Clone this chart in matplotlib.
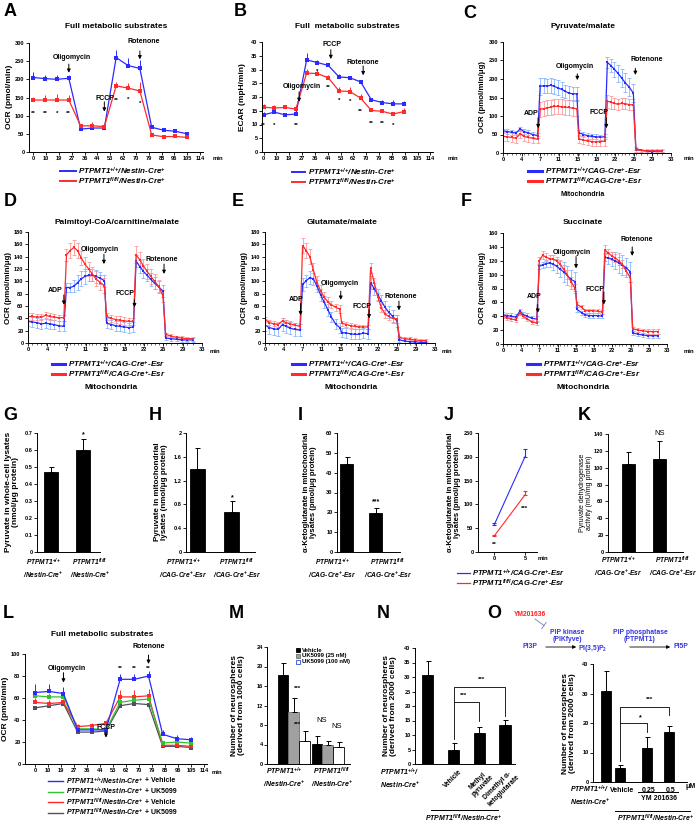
import numpy as np
import matplotlib
matplotlib.use('Agg')
import matplotlib.pyplot as plt
from matplotlib.lines import Line2D
from matplotlib.patches import FancyArrowPatch

plt.rcParams.update({
    'font.family': ['Liberation Sans', 'DejaVu Sans'],
    'font.weight': 'bold',
    'mathtext.fontset': 'custom',
    'mathtext.rm': 'Liberation Sans:italic:bold',
    'mathtext.it': 'Liberation Sans:italic:bold',
    'mathtext.bf': 'Liberation Sans:bold',
    'axes.linewidth': 0.7,
})

# ======================= DATA =======================
seahorse_labels = ['0', '10', '19', '27', '36', '44', '53', '62', '70', '79', '88', '96', '105', '114']

A_wt = [205, 202, 200, 203, 63, 66, 66, 260, 238, 230, 68, 60, 57, 50]
A_wt_err = [15, 10, 12, 8, 5, 4, 4, 20, 20, 24, 5, 5, 4, 4]
A_ko = [143, 143, 143, 143, 72, 72, 70, 182, 176, 168, 47, 42, 43, 40]
A_ko_err = [8, 15, 18, 14, 6, 10, 8, 12, 14, 24, 3, 3, 3, 3]
A_sig = ['**', '**', '*', '**', '', '', '', '**', '*', '*', '', '', '', '']

B_wt = [13.5, 14.5, 13.5, 13.8, 33.5, 32.5, 31.5, 27.3, 27.0, 25.5, 19.0, 18.0, 17.5, 17.5]
B_wt_err = [1.0, 0.5, 0.5, 0.5, 2.5, 1.0, 1.0, 1.2, 0.8, 0.8, 0.8, 0.8, 1.5, 1.2]
B_ko = [16.3, 16.0, 16.2, 15.6, 28.7, 28.5, 27.0, 22.2, 22.0, 19.6, 15.1, 14.8, 13.8, 14.7]
B_ko_err = [1.3, 1.0, 0.5, 0.8, 1.5, 1.3, 1.0, 1.3, 1.5, 1.5, 0.5, 0.5, 0.5, 1.2]
B_sig = ['**', '*', '', '**', '', '*', '**', '*', '*', '**', '**', '**', '*', '']

mito_tick_labels = ['0', '4', '7', '11', '15', '18', '22', '26', '29', '33']
mito_t = [0, 0.85, 1.7, 2.55, 3.4, 4.1, 4.9, 5.8, 6.8,
          7.3, 8.0, 8.7, 9.4, 10.1, 10.8, 11.5, 12.2, 12.9, 13.7, 14.5,
          14.9, 15.8, 16.6, 17.4, 18.2, 19.1, 20.0,
          20.5, 21.2, 21.9, 22.6, 23.3, 24.0, 24.8, 25.6,
          26.1, 27.2, 28.2, 29.2, 30.2, 31.2]

C_wt = [60, 58, 56, 54, 65, 58, 55, 50, 47,
        180, 182, 181, 183, 180, 176, 172, 167, 162, 160, 160,
        55, 50, 47, 45, 44, 43, 44,
        245, 236, 226, 215, 203, 190, 178, 162,
        12, 7, 5, 4, 5, 5]
C_wt_err = [6, 6, 6, 6, 6, 6, 6, 6, 6,
            22, 20, 20, 20, 20, 20, 20, 18, 18, 18, 18,
            8, 8, 8, 7, 7, 7, 7,
            15, 18, 20, 22, 24, 25, 25, 25,
            3, 3, 3, 3, 3, 3]
C_ko = [45, 44, 42, 40, 52, 45, 42, 40, 37,
        118, 120, 122, 124, 126, 126, 125, 124, 123, 121, 120,
        38, 35, 33, 31, 30, 31, 32,
        140, 137, 134, 132, 134, 133, 131, 130,
        8, 7, 6, 6, 6, 6]
C_ko_err = [12, 12, 12, 12, 12, 12, 12, 12, 10,
            20, 20, 20, 20, 20, 20, 20, 20, 20, 20, 20,
            12, 12, 12, 12, 12, 12, 12,
            18, 18, 16, 15, 15, 15, 15, 15,
            4, 4, 4, 4, 4, 4]

D_wt = [35, 34, 33, 31, 32, 31, 30, 28, 27,
        90, 90, 92, 98, 104, 108, 110, 110, 108, 105, 101,
        32, 30, 28, 27, 26, 25, 26,
        133, 124, 116, 110, 103, 97, 91, 84,
        8, 7, 6, 5, 5, 5]
D_wt_err = [8, 8, 8, 8, 8, 8, 8, 8, 8,
            8, 8, 10, 12, 12, 12, 10, 10, 10, 10, 10,
            8, 8, 8, 8, 8, 8, 8,
            10, 10, 10, 10, 10, 10, 10, 10,
            3, 3, 3, 3, 3, 3]
D_ko = [43, 43, 42, 42, 45, 43, 42, 41, 41,
        143, 150, 155, 150, 138, 128, 120, 112, 104, 98, 93,
        43, 40, 38, 37, 36, 35, 35,
        143, 135, 125, 116, 108, 100, 92, 76,
        14, 11, 9, 8, 7, 7]
D_ko_err = [5, 5, 5, 5, 6, 5, 5, 5, 5,
            10, 12, 12, 12, 12, 12, 12, 12, 12, 12, 12,
            6, 6, 6, 6, 6, 6, 6,
            14, 12, 12, 12, 12, 12, 10, 10,
            3, 3, 3, 3, 3, 3]

E_wt = [29, 25, 23, 22, 30, 27, 24, 22, 21,
        95, 101, 106, 104, 92, 78, 66, 54, 42, 31, 25,
        17, 16, 15, 14, 14, 16, 15,
        98, 88, 78, 68, 58, 50, 43, 36,
        5, 3, 2, 2, 1, 1]
E_wt_err = [10, 10, 10, 10, 10, 10, 10, 10, 10,
            10, 10, 10, 10, 10, 10, 10, 10, 8, 8, 8,
            8, 8, 8, 8, 8, 8, 8,
            10, 10, 10, 10, 10, 10, 10, 10,
            3, 3, 3, 3, 3, 3]
E_ko = [38, 33, 31, 30, 36, 33, 31, 29, 27,
        158, 150, 140, 118, 98, 84, 74, 67, 62, 58, 55,
        32, 30, 28, 27, 26, 26, 26,
        121, 98, 75, 57, 47, 43, 40, 39,
        9, 7, 6, 5, 4, 4]
E_ko_err = [4, 4, 4, 4, 4, 4, 4, 4, 4,
            12, 12, 12, 12, 10, 10, 8, 8, 6, 6, 6,
            4, 4, 4, 4, 4, 4, 4,
            8, 8, 6, 6, 6, 6, 6, 6,
            3, 3, 3, 3, 3, 3]

F_wt = [42, 41, 40, 39, 47, 42, 40, 37, 36,
        112, 114, 116, 117, 115, 112, 108, 104, 99, 93, 90,
        50, 45, 42, 41, 41, 41, 40,
        125, 124, 122, 120, 117, 114, 110, 104,
        16, 14, 13, 12, 12, 12]
F_wt_err = [4, 4, 4, 4, 4, 4, 4, 4, 4,
            4, 4, 5, 6, 8, 10, 12, 14, 14, 14, 14,
            4, 3, 3, 3, 3, 3, 3,
            6, 8, 10, 12, 14, 14, 14, 14,
            3, 3, 3, 3, 3, 3]
F_ko = [40, 38, 36, 35, 45, 40, 36, 32, 30,
        120, 128, 125, 123, 122, 120, 115, 108, 100, 90, 80,
        57, 53, 48, 48, 48, 47, 46,
        136, 131, 127, 124, 120, 115, 105, 96,
        22, 20, 19, 18, 18, 18]
F_ko_err = [3, 3, 3, 3, 3, 3, 3, 3, 3,
            6, 6, 6, 6, 6, 6, 6, 6, 6, 6, 6,
            3, 3, 3, 3, 3, 3, 3,
            6, 6, 6, 6, 6, 6, 6, 6,
            3, 3, 3, 3, 3, 3]

G_vals = [0.47, 0.60]
G_err = [0.03, 0.065]
H_vals = [1.40, 0.68]
H_err = [0.34, 0.17]
I_vals = [44.3, 19.5]
I_err = [3.6, 2.6]
J_time = [0, 5]
J_wt = [56, 200]
J_wt_err = [5, 16]
J_ko = [33, 120]
J_ko_err = [2, 9]
K_vals = [105, 110]
K_err = [14, 22]

L_wt_veh = [65, 66, 64, 31, 31, 31, 77, 77, 80, 27, 23, 22]
L_wt_veh_err = [8, 7, 6, 2, 2, 2, 5, 5, 5, 4, 3, 3]
L_wt_uk = [62, 61, 61, 32, 32, 31, 56, 58, 59, 19, 20, 19]
L_wt_uk_err = [5, 4, 4, 2, 2, 1, 4, 4, 5, 2, 2, 2]
L_ko_veh = [56, 55, 56, 34, 35, 37, 61, 61, 62, 17, 17, 16]
L_ko_veh_err = [4, 3, 3, 2, 2, 2, 6, 6, 6, 2, 2, 2]
L_ko_uk = [51, 53, 55, 29, 29, 30, 53, 55, 54, 16, 16, 15]
L_ko_uk_err = [2, 2, 2, 1, 1, 1, 3, 3, 3, 1, 1, 1]
L_sig = ['', '', '', '', '', '', '**', '**', '**', '', '', '']

M_vehicle = [18.2, 4.1]
M_vehicle_err = [2.6, 1.6]
M_uk25 = [10.6, 3.8]
M_uk25_err = [3.0, 1.0]
M_uk100 = [4.7, 3.4]
M_uk100_err = [2.0, 1.1]

N_vals = [30.7, 5.0, 10.7, 13.4]
N_err = [4.9, 2.3, 2.2, 1.8]
N_labels = ['Vehicle', 'Methyl\npyruvate', 'Dimethyl α-\nketoglutarate']

O_vals = [31.0, 4.6, 11.6, 16.8]
O_err = [6.6, 1.2, 3.6, 2.3]
O_labels = ['Vehicle', '0.25', '0.5']

WT_N = 'PTPMT1$^{{+}/{+}}$/Nestin-Cre$^{{+}}$'
KO_N = 'PTPMT1$^{fl/fl}$/Nestin-Cre$^{{+}}$'
WT_C = 'PTPMT1$^{{+}/{+}}$/CAG-Cre$^{{+}}$-Esr'
KO_C = 'PTPMT1$^{fl/fl}$/CAG-Cre$^{{+}}$-Esr'

# ======================= STYLE =======================
BLUE = '#2b2bff'
RED = '#ff2b2b'
LBLUE = '#7fb0ff'
LRED = '#ff8f8f'
GREEN = '#2fc42f'
DARK = '#505060'
PBLUE = '#3535e0'

W, H = 700, 825
fig = plt.figure(figsize=(W / 100, H / 100), dpi=100, facecolor='white')


def ax_px(x0, y0, x1, y1):
    return fig.add_axes([x0 / W, 1 - y1 / H, (x1 - x0) / W, (y1 - y0) / H])


def ftext(x, y, s, size=5, ha='center', va='center', **kw):
    return fig.text(x / W, 1 - y / H, s, fontsize=size, ha=ha, va=va, **kw)


def fline(xs, ys, color='black', lw=0.7, **kw):
    fig.add_artist(Line2D([x / W for x in xs], [1 - y / H for y in ys], color=color, lw=lw, **kw))


def farrow(x0, y0, x1, y1, color='black'):
    fig.add_artist(FancyArrowPatch((x0 / W, 1 - y0 / H), (x1 / W, 1 - y1 / H),
                                   transform=fig.transFigure, arrowstyle='-|>',
                                   mutation_scale=5, lw=0.6, color=color))


def style(ax, ylim, yticks, ylabels=None, fs=4.1):
    ax.spines['top'].set_visible(False)
    ax.spines['right'].set_visible(False)
    ax.set_ylim(*ylim)
    ax.set_yticks(yticks)
    if ylabels is not None:
        ax.set_yticklabels(ylabels)
    ax.tick_params(axis='both', labelsize=fs, length=2, width=0.6, pad=1.2, direction='out')
    ax.set_facecolor('none')


def inject(ax, s, xt, yt, xa, y0, y1, size=5):
    ax.text(xt, yt, s, fontsize=size, ha='center', va='center', clip_on=False)
    ax.annotate('', xy=(xa, y1), xytext=(xa, y0),
                arrowprops=dict(arrowstyle='-|>', lw=0.7, color='black', mutation_scale=5,
                                shrinkA=0, shrinkB=0), annotation_clip=False)


def legend_rows(x0, x1, xt, ys, colors, labels, size=5.8, lw=1.4, suffixes=None):
    texts = []
    for y, c, lab in zip(ys, colors, labels):
        fline([x0, x1], [y, y], color=c, lw=lw)
        texts.append(ftext(xt, y, lab, size=size, ha='left', style='italic'))
    if suffixes:
        fig.canvas.draw()
        r = fig.canvas.get_renderer()
        for t, y, suf in zip(texts, ys, suffixes):
            bb = t.get_window_extent(renderer=r)
            ftext(bb.x1 + 1.5, y, suf, size=size, ha='left')


def seahorse(ax, k, series, sig, sig_y, xlim):
    n = len(series[0][0])
    xs = np.arange(n) * k
    for vals, err, col in series:
        ax.errorbar(xs, vals, yerr=[np.zeros(n), err], color=col, marker='s', ms=2.2, mew=0,
                    lw=0.9, elinewidth=0.7, capsize=1.5, capthick=0.7)
    for x, s, y in zip(xs, sig, sig_y):
        if s:
            ax.text(x, y, s, fontsize=4.5, ha='center', va='center')
    ax.set_xlim(*xlim)
    ax.set_xticks(np.arange(len(seahorse_labels)))
    ax.set_xticklabels(seahorse_labels)
    return xs


def mito(ax, wt, wte, ko, koe, ylim, ystep):
    for vals, err, ecol in ((wt, wte, LBLUE), (ko, koe, LRED)):
        ax.errorbar(mito_t, vals, yerr=err, fmt='none', ecolor=ecol, elinewidth=0.55,
                    capsize=1.2, capthick=0.55)
    for vals, col in ((wt, BLUE), (ko, RED)):
        ax.plot(mito_t, vals, color=col, marker='s', ms=2.0, mew=0, lw=0.9)
    style(ax, ylim, np.arange(ylim[0], ylim[1] + 1, ystep))
    ax.set_xlim(0, 33)
    ax.set_xticks(np.arange(10) * 33 / 9)
    ax.set_xticklabels(mito_tick_labels)
    ax.set_xticks(mito_t, minor=True)
    ax.tick_params(axis='x', which='minor', length=1.2, width=0.4)


def bars(ax, x, vals, errs, width, color='black', edge='black'):
    ax.bar(x, vals, width, color=color, edgecolor=edge, linewidth=0.6,
           yerr=[np.zeros(len(errs)), errs],
           error_kw=dict(ecolor='black', elinewidth=0.7, capsize=1.8, capthick=0.7), zorder=2)


# ---------- panel letters ----------
for ch, x, y in [('A', 10, 12), ('B', 240, 12), ('C', 470, 13), ('D', 10, 202), ('E', 238, 202),
                 ('F', 466, 202), ('G', 10, 415), ('H', 155, 415), ('I', 300, 415), ('J', 449, 415),
                 ('K', 584, 415), ('L', 8, 613), ('M', 236, 613), ('N', 383, 613), ('O', 494, 613)]:
    ftext(x, y, ch, size=13)

# ======================= A =======================
axA = ax_px(29, 43, 203, 152)
style(axA, (0, 300), np.arange(0, 301, 50))
kA = 12 / 13
A_sig_y = [105, 105, 105, 105, 0, 0, 0, 143, 145, 135, 0, 0, 0, 0]
seahorse(axA, kA, [(A_wt, A_wt_err, BLUE), (A_ko, A_ko_err, RED)], A_sig, A_sig_y, (-0.335, 13.23))
inject(axA, 'Oligomycin', 3.0, 261, 3 * kA, 242, 218)
inject(axA, 'FCCP', 5.6, 148, 6 * kA, 138, 111)
inject(axA, 'Rotenone', 8.6, 304, 9 * kA, 278, 255)
ftext(116, 27, 'Full metabolic substrates', size=6)
ftext(10, 97, 'OCR (pmol/min)', size=6, rotation=90)
ftext(218, 159, 'min', size=4.3)
legend_rows(60, 76, 78, [171, 181], [BLUE, RED], [WT_N, KO_N])

# ======================= B =======================
axB = ax_px(262, 42, 433, 152)
style(axB, (0, 40), np.arange(0, 41, 5))
kB = 0.84
B_sig_y = [9.7, 9.7, 0, 9.7, 0, 29.2, 23.5, 18.9, 18.5, 14.8, 10.3, 10.3, 9.7, 0]
seahorse(axB, kB, [(B_wt, B_wt_err, BLUE), (B_ko, B_ko_err, RED)], B_sig, B_sig_y, (-0.12, 13.2))
inject(axB, 'Oligomycin', 3.0, 24, 3 * kB + 0.25, 21.9, 18.2)
inject(axB, 'FCCP', 5.3, 39, 6 * kB + 0.2, 37.2, 33.8)
inject(axB, 'Rotenone', 7.75, 32.6, 9 * kB + 0.2, 31.3, 27.9)
ftext(347, 27, 'Full  metabolic substrates', size=6)
ftext(243, 97, 'ECAR (mpH/min)', size=6, rotation=90)
ftext(453, 159, 'min', size=4.3)
legend_rows(292, 305, 308, [172, 182], [BLUE, RED], [WT_N, KO_N])

# ======================= C =======================
axC = ax_px(503, 42, 671, 153)
mito(axC, C_wt, C_wt_err, C_ko, C_ko_err, (0, 300), 50)
inject(axC, 'ADP', 5.5, 107, 6.9, 95, 67)
inject(axC, 'Oligomycin', 14.2, 235, 14.6, 214, 197)
inject(axC, 'FCCP', 18.8, 109, 20.3, 95, 67)
inject(axC, 'Rotenone', 28.3, 253, 26.0, 229, 211)
ftext(583, 27, 'Pyruvate/malate', size=6)
ftext(483, 97, 'OCR (pmol/min/μg)', size=5.7, rotation=90)
ftext(689, 159, 'min', size=4.3)
legend_rows(528, 542, 545, [171, 181], [BLUE, RED], [WT_C, KO_C], lw=2.2)
ftext(583, 194, 'Mitochondria', size=5)

# ======================= D =======================
axD = ax_px(28, 232, 202, 343)
mito(axD, D_wt, D_wt_err, D_ko, D_ko_err, (0, 180), 20)
inject(axD, 'ADP', 5.1, 85, 6.8, 78, 62)
inject(axD, 'Oligomycin', 13.7, 151, 14.4, 144, 128)
inject(axD, 'FCCP', 18.4, 81, 20.2, 70, 58)
inject(axD, 'Rotenone', 25.4, 136, 25.8, 128, 112)
ftext(117, 222, 'Palmitoyl-CoA/carnitine/malate', size=6)
ftext(9, 288, 'OCR (pmol/min/μg)', size=5.7, rotation=90)
ftext(215, 351, 'min', size=4.3)
legend_rows(52, 65, 68, [364, 374], [BLUE, RED], [WT_C, KO_C], lw=2.2)
ftext(111, 388, 'Mitochondria', size=6)

# ======================= E =======================
axE = ax_px(265, 232, 435, 343)
mito(axE, E_wt, E_wt_err, E_ko, E_ko_err, (0, 180), 20)
inject(axE, 'ADP', 6.0, 70, 6.9, 64, 45)
inject(axE, 'Oligomycin', 14.6, 97, 14.7, 84, 70)
inject(axE, 'FCCP', 18.8, 60, 20.2, 54, 40)
inject(axE, 'Rotenone', 26.3, 75, 26.0, 68, 53)
ftext(342, 222, 'Glutamate/malate', size=6)
ftext(244, 288, 'OCR (pmol/min/μg)', size=5.7, rotation=90)
ftext(447, 351, 'min', size=4.3)
legend_rows(292, 305, 308, [364, 374], [BLUE, RED], [WT_C, KO_C], lw=2.2)
ftext(351, 388, 'Mitochondria', size=6)

# ======================= F =======================
axF = ax_px(503, 233, 667, 344)
mito(axF, F_wt, F_wt_err, F_ko, F_ko_err, (0, 160), 20)
inject(axF, 'ADP', 6.2, 68, 7.0, 57, 45)
inject(axF, 'Oligomycin', 13.9, 132, 14.7, 126, 109)
inject(axF, 'FCCP', 18.6, 79, 20.3, 75, 57)
inject(axF, 'Rotenone', 26.9, 150, 26.0, 140, 127)
ftext(583, 222, 'Succinate', size=6)
ftext(483, 288, 'OCR (pmol/min/μg)', size=5.7, rotation=90)
ftext(689, 351, 'min', size=4.3)
legend_rows(527, 540, 543, [364, 374], [BLUE, RED], [WT_C, KO_C], lw=2.2)
ftext(583, 388, 'Mitochondria', size=6)


# ======================= G-K =======================
def two_cats(ax, xlim, width, vals, errs):
    bars(ax, np.arange(2), vals, errs, width)
    ax.set_xlim(*xlim)
    ax.set_xticks([])


axG = ax_px(37, 433, 100, 552)
style(axG, (0, 0.7), np.arange(0, 0.71, 0.1), ['0', '0.1', '0.2', '0.3', '0.4', '0.5', '0.6', '0.7'])
two_cats(axG, (-0.43, 1.51), 0.43, G_vals, G_err)
axG.text(1, 0.69, '*', fontsize=5, ha='center', va='center')
ftext(12, 492, 'Pyruvate in whole-cell lysates\n(nmol/μg protein)', size=6, rotation=90, linespacing=1.15)
ftext(43, 568, 'PTPMT1$^{{+}/{+}}$\n/Nestin-Cre$^{{+}}$', size=4.8, style='italic', ha='center')
ftext(90, 568, 'PTPMT1$^{fl/fl}$\n/Nestin-Cre$^{{+}}$', size=4.8, style='italic', ha='center')

axH = ax_px(186, 433, 255, 552)
style(axH, (0, 2), [0, 0.4, 0.8, 1.2, 1.6, 2], ['0', '0.4', '0.8', '1.2', '1.6', '2'])
two_cats(axH, (-0.33, 1.67), 0.43, H_vals, H_err)
axH.text(1, 0.92, '*', fontsize=5, ha='center', va='center')
ftext(161, 492, 'Pyruvate in mitochondrial\nlysates (nmol/μg protein)', size=5.8, rotation=90, linespacing=1.15)
ftext(183, 568, 'PTPMT1$^{{+}/{+}}$\n/CAG-Cre$^{{+}}$-Esr', size=4.8, style='italic', ha='center')
ftext(237, 568, 'PTPMT1$^{fl/fl}$\n/CAG-Cre$^{{+}}$-Esr', size=4.8, style='italic', ha='center')

axI = ax_px(337, 433, 400, 552)
style(axI, (0, 60), np.arange(0, 61, 10))
two_cats(axI, (-0.34, 1.83), 0.45, I_vals, I_err)
axI.text(1, 25.5, '***', fontsize=5, ha='center', va='center')
ftext(310, 492, 'α-Ketoglutarate in mitochondrial\nlysates (pmol/μg protein)', size=5.6, rotation=90, linespacing=1.15)
ftext(332, 568, 'PTPMT1$^{{+}/{+}}$\n/CAG-Cre$^{{+}}$-Esr', size=4.8, style='italic', ha='center')
ftext(388, 568, 'PTPMT1$^{fl/fl}$\n/CAG-Cre$^{{+}}$-Esr', size=4.8, style='italic', ha='center')

axJ = ax_px(478, 433, 537, 552)
style(axJ, (0, 250), np.arange(0, 251, 50))
for vals, err, col in ((J_wt, J_wt_err, BLUE), (J_ko, J_ko_err, RED)):
    axJ.errorbar(J_time, vals, yerr=[np.zeros(len(err)), err], color=col, lw=0.8,
                 elinewidth=0.8, capsize=1.5, capthick=0.8)
axJ.set_xlim(-2.58, 6.94)
axJ.set_xticks(J_time)
axJ.text(0, 16, '**', fontsize=4.5, ha='center', va='center')
axJ.text(5, 92, '***', fontsize=4.5, ha='center', va='center')
ftext(454, 492, 'α-Ketoglutarate in mitochondrial\nlysates (pmol/μg protein)', size=5.6, rotation=90, linespacing=1.15)
ftext(543, 559, 'min', size=4.3)
legend_rows(457, 470, 472, [573, 583], [BLUE, RED], [WT_C, KO_C], size=5.5, lw=0.9)

axK = ax_px(608, 434, 683, 552)
style(axK, (0, 140), np.arange(0, 141, 20))
two_cats(axK, (-0.66, 1.76), 0.42, K_vals, K_err)
axK.text(1, 140, 'NS', fontsize=5.5, ha='center', va='center', fontweight='normal')
ftext(586, 493, 'Pyruvate dehydrogenase\nactivity (mU/mg protein)', size=5.0, rotation=90,
      fontweight='normal', linespacing=1.1)
ftext(618, 566, 'PTPMT1$^{{+}/{+}}$\n/CAG-Cre$^{{+}}$-Esr', size=4.8, style='italic', ha='center')
ftext(673, 566, 'PTPMT1$^{fl/fl}$\n/CAG-Cre$^{{+}}$-Esr', size=4.8, style='italic', ha='center')

# ======================= L =======================
axL = ax_px(25, 654, 207, 764)
style(axL, (0, 100), np.arange(0, 101, 20))
kL = 12 / 11
L_sig_y = [0, 0, 0, 0, 0, 0, 87, 87, 87, 0, 0, 0]
seahorse(axL, kL, [(L_ko_uk, L_ko_uk_err, DARK), (L_ko_veh, L_ko_veh_err, RED),
                   (L_wt_uk, L_wt_uk_err, GREEN), (L_wt_veh, L_wt_veh_err, BLUE)],
         L_sig, L_sig_y, (-0.78, 13.23))
inject(axL, 'Oligomycin', 2.47, 87, 2 * kL, 83, 74)
inject(axL, 'FCCP', 5.45, 33, 5 * kL, 29.5, 24)
inject(axL, 'Rotenone', 8.74, 106.5, 8 * kL, 99, 91)
ftext(102, 634, 'Full metabolic substrates', size=6)
ftext(6, 709, 'OCR (pmol/min)', size=6, rotation=90)
ftext(217, 773, 'min', size=4.3)

# ======================= M =======================
axM = ax_px(267, 647, 350, 764)
style(axM, (0, 24), np.arange(0, 25, 4))
mw = 0.32
grp = np.arange(2)
bars(axM, grp - mw, M_vehicle, M_vehicle_err, mw, color='black')
bars(axM, grp, M_uk25, M_uk25_err, mw, color='#a0a0a0', edge='#707070')
bars(axM, grp + mw, M_uk100, M_uk100_err, mw, color='white', edge='black')
axM.set_xlim(-0.79, 1.65)
axM.set_xticks([])
axM.text(0.12, 15.6, '***', fontsize=4.5, ha='center', va='center')
axM.text(0.12, 8.2, '***', fontsize=4.5, ha='center', va='center')
axM.text(0.82, 9.0, 'NS', fontsize=5.5, ha='center', va='center', fontweight='normal')
axM.text(1.26, 7.6, 'NS', fontsize=5.5, ha='center', va='center', fontweight='normal')
for y, fc, ec, lab in [(650, 'black', 'black', 'Vehicle'), (656, '#a0a0a0', '#707070', 'UK5099 (25 nM)'),
                       (662, 'white', '#3050d0', 'UK5099 (100 nM)')]:
    fig.add_artist(Line2D([298 / W], [1 - y / H], marker='s', ms=2.8, mfc=fc, mec=ec, mew=0.6, lw=0))
    ftext(302, y, lab, size=4.3, ha='left')
ftext(238, 705, 'Number of neurospheres\n(derived from 1000 cells)', size=6, rotation=90, linespacing=1.15)
ftext(284, 777, 'PTPMT1$^{{+}/{+}}$\n/Nestin-Cre$^{{+}}$', size=5, style='italic', ha='center')
ftext(332, 777, 'PTPMT1$^{fl/fl}$\n/Nestin-Cre$^{{+}}$', size=5, style='italic', ha='center')

# ======================= N =======================
axN = ax_px(415, 648, 515, 764)
style(axN, (0, 40), np.arange(0, 41, 5))
bars(axN, np.arange(4), N_vals, N_err, 0.43)
axN.set_xlim(-0.5, 3.39)
axN.set_xticks([])
for i, lab in enumerate(N_labels):
    axN.text(i + 1 + 0.2, -1.5, lab, rotation=45, ha='right', va='top', rotation_mode='anchor',
             fontsize=4.8, multialignment='center', clip_on=False)
axN.plot([1, 1, 2, 2], [8.5, 21.4, 21.4, 14.8], color='black', lw=0.6, clip_on=False)
axN.plot([1, 1, 3, 3], [21.4, 26.6, 26.6, 16.5], color='black', lw=0.6, clip_on=False)
axN.text(1.4, 23.6, '***', fontsize=4.5, ha='center', va='center')
axN.text(2.1, 29.0, '***', fontsize=4.5, ha='center', va='center')
ftext(390, 706, 'Number of neurospheres\n(derived from 2000 cells)', size=6, rotation=90, linespacing=1.15)
ftext(400, 778, 'PTPMT1$^{{+}/{+}}$/\nNestin-Cre$^{{+}}$', size=5, style='italic', ha='center')
fline([431, 498], [810, 810], lw=0.7)
ftext(464, 818.5, KO_N, size=5, style='italic')

# ======================= O =======================
axO = ax_px(593, 664, 687, 782)
style(axO, (0, 40), np.arange(0, 41, 10))
O_pos = [0, 0.65, 1.85, 2.85]
bars(axO, O_pos, O_vals, O_err, 0.46)
axO.set_xlim(-0.59, 3.68)
axO.set_xticks([])
for p, lab in zip(O_pos[1:], O_labels):
    axO.text(p + 0.1, -1.8, lab, fontsize=5, ha='center', va='top', clip_on=False)
axO.plot([0.65, 0.65, 1.85, 1.85], [7.0, 20.0, 20.0, 17.0], color='black', lw=0.6, clip_on=False)
axO.plot([0.65, 0.65, 2.85, 2.85], [20.0, 25.4, 25.4, 22.7], color='black', lw=0.6, clip_on=False)
axO.text(1.55, 21.8, '*', fontsize=5, ha='center', va='center')
axO.text(2.0, 27.9, '***', fontsize=4.5, ha='center', va='center')
ftext(691, 787, 'μM', size=5)
fline([638, 678], [792, 792], lw=0.7)
ftext(659, 799, 'YM 201636', size=5)
ftext(590, 795, 'PTPMT1$^{{+}/{+}}$/\nNestin-Cre$^{{+}}$', size=5, style='italic', ha='center')
fline([615, 690], [811, 811], lw=0.7)
ftext(656, 818.5, KO_N, size=5, style='italic')
ftext(569, 723, 'Number of neurospheres\n(derived from 2000 cells)', size=6, rotation=90, linespacing=1.15)

# pathway diagram
ftext(530, 614, 'YM201636', size=4.8, color='#ff2020')
fline([535, 544], [619, 625.5], color='#6a7fb0', lw=0.6)
fline([541.8, 546.2], [628.6, 622.4], color='#6a7fb0', lw=0.6)
ftext(567, 636, 'PIP kinase\n(PIKfyve)', size=4.9, color=PBLUE, linespacing=1.05)
ftext(640, 636, 'PIP phosphatase\n(PTPMT1)', size=4.9, color=PBLUE, linespacing=1.05)
ftext(530, 647, 'PI3P', size=4.9, color=PBLUE)
ftext(593, 648, r'PI(3,5)P$_\mathbf{2}$', size=4.9, color=PBLUE)
ftext(681, 647, 'PI5P', size=4.9, color=PBLUE)
farrow(543, 647, 579, 647)
farrow(627, 647, 673, 647)

# L legend last (measures rendered text widths to place the upright suffix)
legend_rows(48, 63, 66, [781, 791.5, 802, 812.5], [BLUE, GREEN, RED, DARK],
            [WT_N, WT_N, KO_N, KO_N], size=5.0, lw=1.0,
            suffixes=['+ Vehicle', '+ UK5099', '+ Vehicle', '+ UK5099'])

fig.savefig('out.png', dpi=100, facecolor='white')
